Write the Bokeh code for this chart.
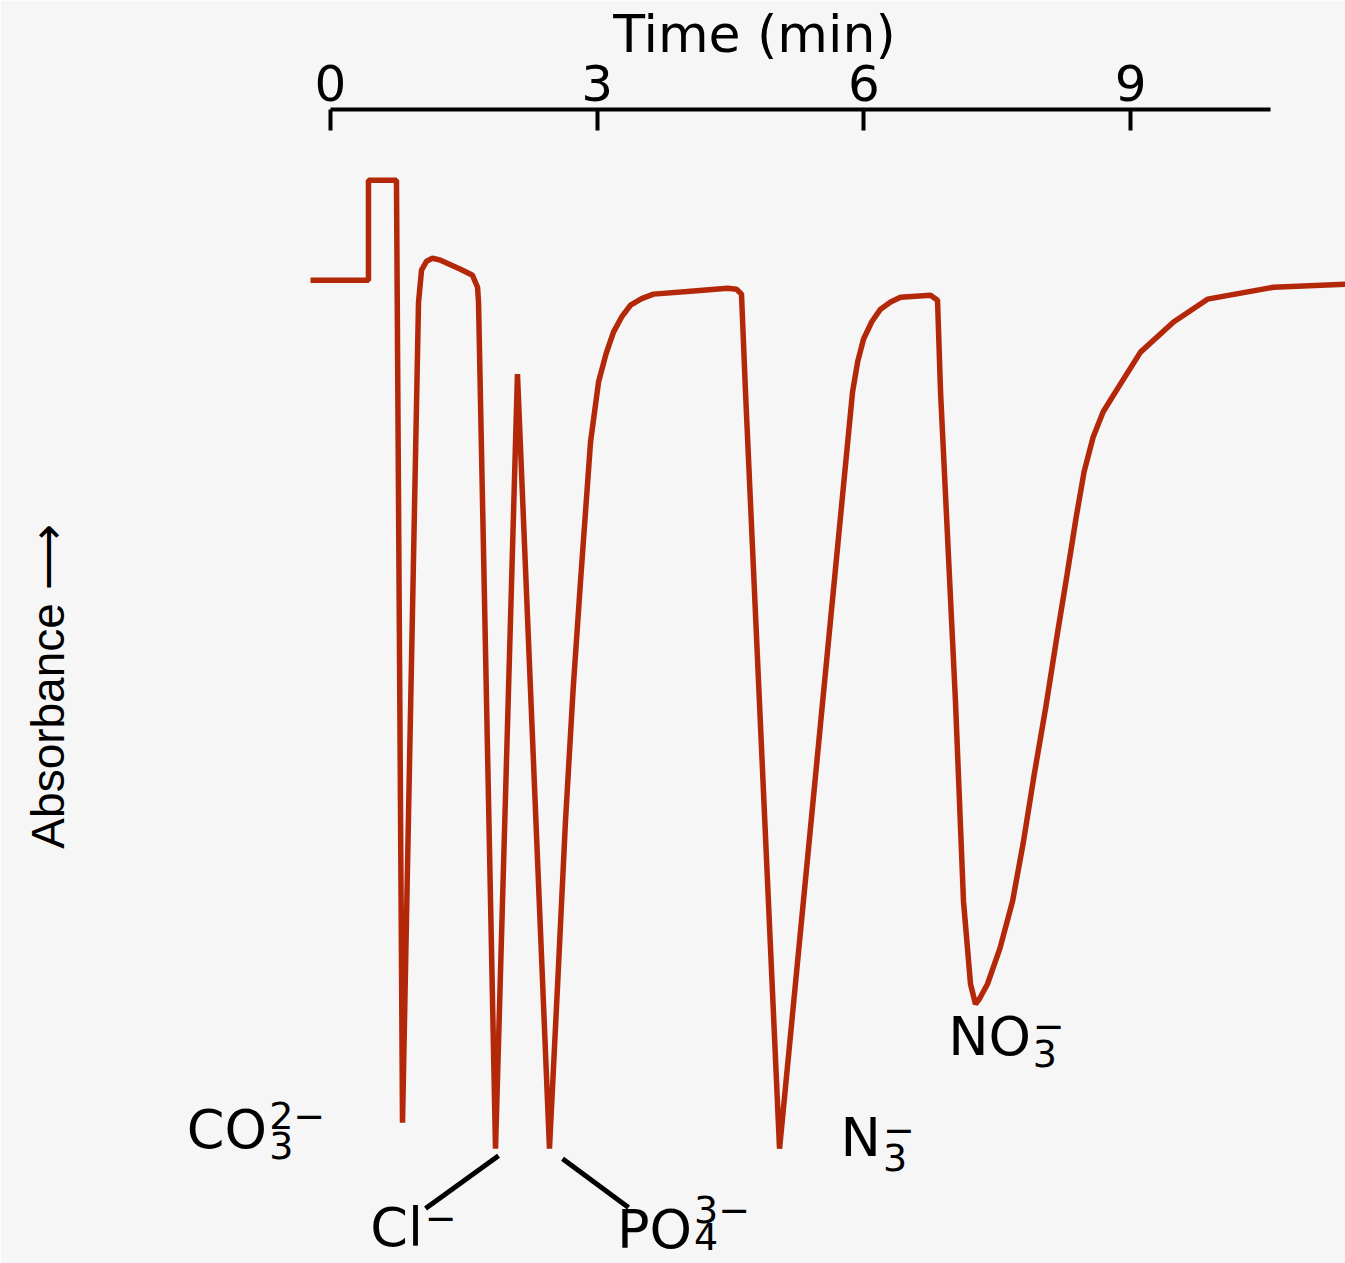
from bokeh.plotting import figure
from bokeh.models import Range1d, FixedTicker
from bokeh.core.properties import value
from bokeh.embed import file_html
from bokeh.resources import INLINE

# ---- data (time in min, detector signal in arbitrary units) ----
time_min = [-0.225, 0.427, 0.427, 0.742, 0.810, 0.990, 1.024, 1.080, 1.147, 1.237,
            1.462, 1.597, 1.654, 1.665, 1.856, 2.103, 2.463, 2.560, 2.643, 2.730,
            2.812, 2.925, 3.015, 3.100, 3.183, 3.275, 3.375, 3.500, 3.633, 4.049,
            4.466, 4.567, 4.623, 4.668, 5.051, 5.872, 5.930, 5.996, 6.090, 6.187,
            6.300, 6.412, 6.749, 6.828, 6.862, 7.030, 7.120, 7.199, 7.255, 7.300,
            7.390, 7.530, 7.672, 7.790, 7.914, 8.049, 8.173, 8.285, 8.387, 8.477,
            8.578, 8.690, 8.808, 9.111, 9.483, 9.865, 10.607, 11.417]
signal = [85.10, 85.10, 93.82, 93.82, 11.59, 83.19, 85.98, 86.76, 87.02, 86.85,
          86.06, 85.54, 84.49, 83.19, 9.32, 76.92, 9.32, 24.50, 37.89, 49.50,
          58.80, 70.99, 76.22, 78.70, 80.57, 81.90, 82.93, 83.50, 83.89, 84.15,
          84.41, 84.32, 83.89, 75.35, 9.32, 75.35, 78.00, 79.97, 81.50, 82.58,
          83.20, 83.62, 83.80, 83.36, 75.35, 48.34, 30.92, 23.69, 21.95, 22.40,
          23.69, 26.80, 30.92, 35.90, 41.90, 48.00, 54.10, 59.40, 64.40, 68.40,
          71.40, 73.60, 75.09, 78.83, 81.45, 83.45, 84.49, 84.76]
tick_values = [0, 3, 6, 9]

ion_main = ["CO", "Cl", "PO", "N", "NO"]
ion_sup = ["2\u2212", "\u2212", "3\u2212", "\u2212", "\u2212"]
ion_sub = ["3", "", "4", "3", "3"]

# ---- annotation placement (data coordinates) ----
main_x = [-0.714, 1.040, 4.066, 6.192, 7.880]
main_y = [10.975, 2.439, 2.264, 10.278, 19.076]
sup_x = [-0.69, 1.06, 4.09, 6.215, 7.90]
sup_y = [12.196, 3.310, 4.007, 10.976, 20.035]
sub_x = [-0.69, 1.06, 4.09, 6.215, 7.90]
sub_y = [9.582, 1.307, 1.656, 8.537, 17.596]
leader_x0 = [1.890, 2.610]
leader_y0 = [8.711, 8.449]
leader_x1 = [1.069, 3.352]
leader_y1 = [4.094, 4.181]

bg = "#f6f6f6"
trace_color = "#b4280a"
font = value("DejaVu Sans")

p = figure(width=1345, height=1263,
           x_range=Range1d(-1.8785, 11.417), y_range=Range1d(-0.697, 100),
           x_axis_location="above", y_axis_location="left",
           output_backend="svg", toolbar_location=None,
           min_border_left=163, min_border_right=0,
           min_border_top=107, min_border_bottom=0,
           background_fill_color=bg, border_fill_color=bg,
           outline_line_color=None)
p.grid.visible = False

xa = p.xaxis[0]
xa.ticker = FixedTicker(ticks=tick_values)
xa.bounds = (0, 10.57)
xa.axis_line_width = 4
xa.axis_line_color = "black"
xa.major_tick_line_width = 4
xa.major_tick_line_color = "black"
xa.major_tick_in = 21
xa.major_tick_out = 0
xa.minor_tick_line_color = None
xa.major_label_text_font = "DejaVu Sans"
xa.major_label_text_font_size = "50px"
xa.major_label_text_color = "black"
xa.major_label_standoff = 9
xa.axis_label = "Time (min)"
xa.axis_label_text_font = "DejaVu Sans"
xa.axis_label_text_font_size = "52px"
xa.axis_label_text_font_style = "normal"
xa.axis_label_text_color = "black"
xa.axis_label_standoff = -2

ya = p.yaxis[0]
ya.ticker = FixedTicker(ticks=[])
ya.axis_line_color = None
ya.major_tick_line_color = None
ya.minor_tick_line_color = None
ya.axis_label = "Absorbance \u27f6"
ya.axis_label_text_font = "Liberation Sans"
ya.axis_label_text_font_size = "46px"
ya.axis_label_text_font_style = "normal"
ya.axis_label_text_color = "black"
ya.axis_label_standoff = 90

p.line(time_min, signal, line_color=trace_color, line_width=5.5)

p.segment(leader_x0, leader_y0, leader_x1, leader_y1, line_color="black", line_width=5)

p.text(main_x, main_y, text=ion_main, text_font=font, text_font_size="54px",
       text_align="right", text_baseline="alphabetic", text_color="black")
p.text(sup_x, sup_y, text=ion_sup, text_font=font, text_font_size="38px",
       text_align="left", text_baseline="alphabetic", text_color="black")
p.text(sub_x, sub_y, text=ion_sub, text_font=font, text_font_size="38px",
       text_align="left", text_baseline="alphabetic", text_color="black")

open("out.html", "w").write(file_html(p, INLINE))
